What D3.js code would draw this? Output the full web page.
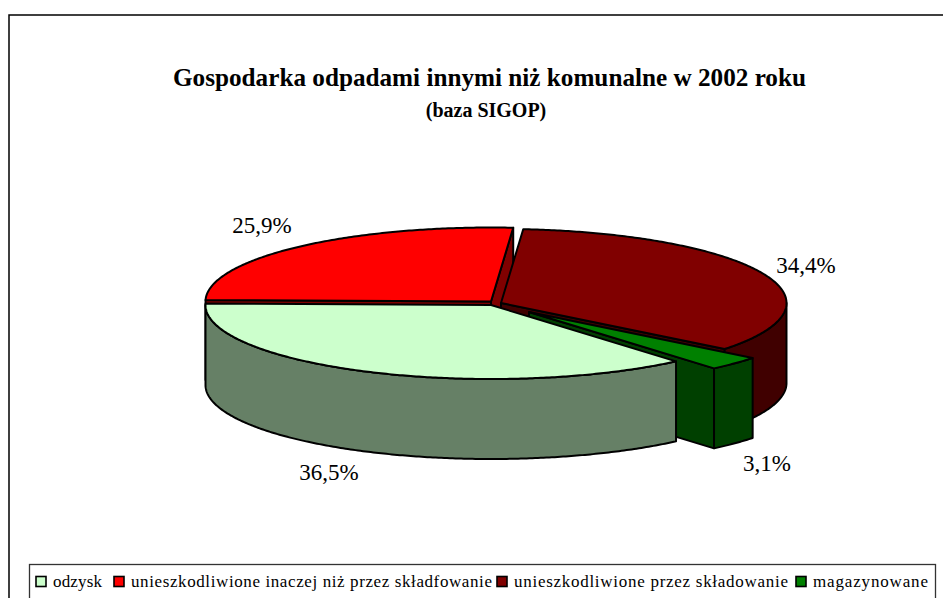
<!DOCTYPE html>
<html lang="pl">
<head>
<meta charset="utf-8">
<script src="https://d3js.org/d3.v7.min.js"></script>
<style>
html, body { margin: 0; background: #fff; }
svg { display: block; }
text { font-family: "Liberation Serif", serif; fill: #000; }
</style>
</head>
<body>
<svg width="943" height="598"></svg>
<script>
var categories = ["odzysk", "unieszkodliwione inaczej niż przez składfowanie", "unieszkodliwione przez składowanie", "magazynowane"];
var values = [36.5, 25.9, 34.4, 3.1];
var valueLabels = ["36,5%", "25,9%", "34,4%", "3,1%"];
var topColors = ["#ccffcc", "#ff0000", "#800000", "#008000"];
var wallColors = ["#668066", "#800000", "#400000", "#004000"];

var svg = d3.select("svg");

// chart frame, runs off the right and bottom of the picture
svg.append("path")
    .attr("d", "M9,598V15H943")
    .attr("fill", "none")
    .attr("stroke", "#000")
    .attr("stroke-width", 1.5);

svg.append("text")
    .attr("x", 173).attr("y", 86)
    .attr("font-size", 26).attr("font-weight", "bold")
    .attr("textLength", 633).attr("lengthAdjust", "spacingAndGlyphs")
    .text("Gospodarka odpadami innymi niż komunalne w 2002 roku");
svg.append("text")
    .attr("x", 486).attr("y", 117)
    .attr("text-anchor", "middle")
    .attr("font-size", 20).attr("font-weight", "bold")
    .text("(baza SIGOP)");

// pie geometry
var rx = 285.5, ry = 74, depth = 80;
var centers = [[491, 305], [491, 301.5], [501, 303], [529, 312]];  // each slice is pulled out
var labelPos = [[329, 480], [262, 233], [806, 273], [767, 471]];

var pie = d3.pie().sort(null).startAngle(139.6 * Math.PI / 180).endAngle(499.6 * Math.PI / 180);
var slices = pie(values);

function px(c, a) { return c[0] + rx * Math.sin(a); }
function py(c, a) { return c[1] - ry * Math.cos(a); }

var line = d3.line();

function radialFace(c, a) {
  return line([c, [px(c, a), py(c, a)], [px(c, a), py(c, a) + depth], [c[0], c[1] + depth]]) + "Z";
}

// outer wall between two angles, only the part facing the viewer
function outerWall(c, a0, a1) {
  var lo = Math.max(a0, Math.PI / 2), hi = Math.min(a1, 3 * Math.PI / 2);
  if (lo >= hi) return null;
  var angs = d3.range(lo, hi, 0.01).concat([hi]);
  var up = angs.map(function(a) { return [px(c, a), py(c, a)]; });
  var down = angs.slice().reverse().map(function(a) { return [px(c, a), py(c, a) + depth]; });
  return line(up.concat(down)) + "Z";
}

var g = svg.append("g").attr("stroke", "#000").attr("stroke-width", 2).attr("stroke-linejoin", "round");

// back slices first, so the front ones cover them
[1, 2, 3, 0].forEach(function(i) {
  var s = slices[i], c = centers[i], wall = wallColors[i];
  var a0 = s.startAngle % (2 * Math.PI), a1 = a0 + (s.endAngle - s.startAngle);

  if (Math.cos(a0 - 1.5 * Math.PI) > 0)
    g.append("path").attr("d", radialFace(c, a0)).attr("fill", wall);
  if (Math.cos(a1 - 0.5 * Math.PI) > 0)
    g.append("path").attr("d", radialFace(c, a1)).attr("fill", wall);

  var w = outerWall(c, a0, a1);
  if (w) g.append("path").attr("d", w).attr("fill", wall);

  var top = d3.range(a0, a1, 0.01).concat([a1]).map(function(a) { return [px(c, a), py(c, a)]; });
  g.append("path").attr("d", line([c].concat(top)) + "Z").attr("fill", topColors[i]);
});

valueLabels.forEach(function(t, i) {
  svg.append("text")
      .attr("x", labelPos[i][0]).attr("y", labelPos[i][1])
      .attr("text-anchor", "middle")
      .attr("font-size", 23)
      .text(t);
});

// legend, box bottom is cut off by the picture edge
var legend = svg.append("g");
legend.append("rect")
    .attr("x", 29.5).attr("y", 564.5).attr("width", 906).attr("height", 40)
    .attr("fill", "#fff").attr("stroke", "#333").attr("stroke-width", 1.3);

var legendX = [35, 113, 496, 795];
var legendW = [49, 361, 274, 115];
categories.forEach(function(name, i) {
  legend.append("rect")
      .attr("x", legendX[i] + 1).attr("y", 576.5).attr("width", 10).attr("height", 10)
      .attr("fill", topColors[i]).attr("stroke", "#000").attr("stroke-width", 1.6);
  legend.append("text")
      .attr("x", legendX[i] + 18).attr("y", 587)
      .attr("font-size", 17)
      .attr("textLength", legendW[i]).attr("lengthAdjust", "spacing")
      .text(name);
});
</script>
</body>
</html>
